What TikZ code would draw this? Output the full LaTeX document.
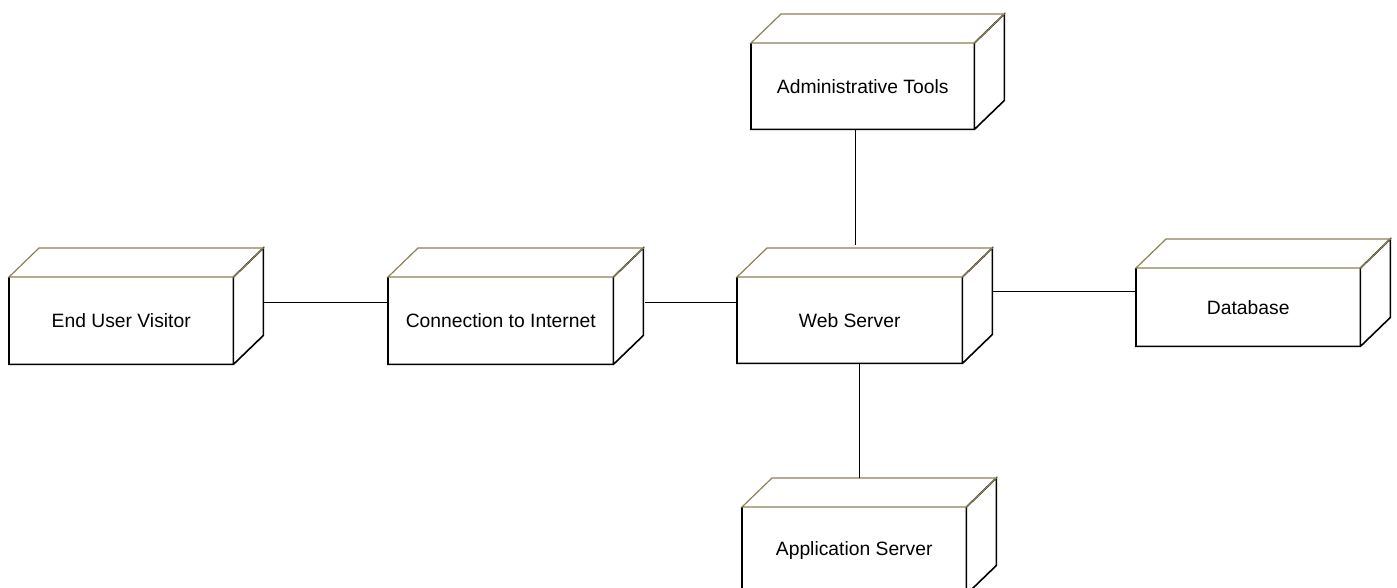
\documentclass[tikz,border=0pt]{standalone}
\usepackage{fontspec}
\setmainfont{Liberation Sans}
\definecolor{edgeolive}{RGB}{140,128,84}
\tikzset{
  x=1pt, y=-1pt,
  front/.style={inner sep=0pt, font=\fontsize{19.3}{22}\selectfont},
  topedge/.style={draw=edgeolive, line width=1.2pt, line join=miter},
  darkedge/.style={draw=black, line width=1.6pt, line join=miter},
  link/.style={draw=black, line width=1.4pt}
}
% deployment node as a 3D box: name, x, y (front top-left), width, height, label
\newcommand\deploynode[6]{%
  \node[front, minimum width=#4pt, minimum height=#5pt, anchor=north west] (#1) at (#2,#3) {#6};
  \draw[darkedge] (#1.north west) -- (#1.south west) -- (#1.south east) -- (#1.north east)
    -- ++(30,-29) -- ([shift={(30,-29)}]#1.south east) -- (#1.south east);
  \draw[topedge] (#1.north west) -- ++(30,-29) -- ([shift={(30,-29)}]#1.north east)
    -- (#1.north east) -- cycle;
}
\begin{document}
\begin{tikzpicture}
  \fill[white] (0,0) rectangle (1397,587);
  \clip (0,0) rectangle (1397,587);
  \useasboundingbox (0,0) rectangle (1397,587);

  \deploynode{eu}{9}{277}{224}{87}{End User Visitor}
  \deploynode{ci}{388}{277}{225}{87}{Connection to Internet}
  \deploynode{ws}{737}{277}{225}{86}{Web Server}
  \deploynode{at}{751}{43}{223}{86}{Administrative Tools}
  \deploynode{db}{1136}{268}{224}{78}{Database}
  \deploynode{as}{742}{507}{224}{87}{Application Server}

  % connection points on the box faces
  \coordinate (eu-r) at ([shift={(30,-18.5)}]eu.east);
  \coordinate (ci-r) at ([shift={(32,-18.5)}]ci.east);
  \coordinate (ws-t) at ([shift={(5.5,-32)}]ws.north);
  \coordinate (ws-r) at ([shift={(30,-29)}]ws.east);
  \coordinate (ws-b) at ([xshift=9.5pt]ws.south);
  \coordinate (as-t) at ([shift={(0,-29)}]as.north);

  \draw[link] (eu-r) -- (eu-r -| ci.west);
  \draw[link] (ci-r) -- (ci-r -| ws.west);
  \draw[link] (ws-t |- at.south) -- (ws-t);
  \draw[link] (ws-r) -- (ws-r -| db.west);
  \draw[link] (ws-b) -- (ws-b |- as-t);
\end{tikzpicture}
\end{document}
